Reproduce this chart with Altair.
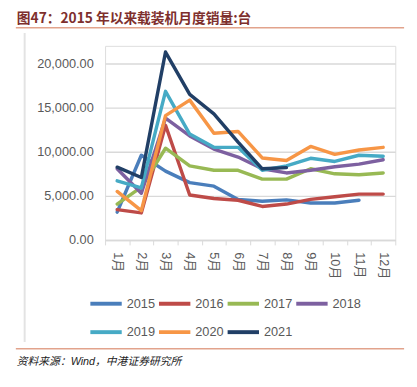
import altair as alt
import pandas as pd

months = ["1月", "2月", "3月", "4月", "5月", "6月", "7月", "8月", "9月", "10月", "11月", "12月"]
years = ["2015", "2016", "2017", "2018", "2019", "2020", "2021"]
colors = ["#4A7EBB", "#BE4B48", "#98B954", "#7D60A0", "#46AAC5", "#F79646", "#213F66"]

s2015 = [3150, 9600, 7800, 6500, 6100, 4600, 4400, 4550, 4200, 4200, 4500, None]
s2016 = [3440, 3070, 13000, 5100, 4700, 4500, 3800, 4070, 4600, 4900, 5200, 5200]
s2017 = [4070, 6000, 10400, 8400, 7900, 7900, 6900, 6900, 8070, 7500, 7400, 7600]
s2018 = [8070, 5300, 13800, 11800, 10300, 9400, 8070, 7600, 7900, 8300, 8600, 9100]
s2019 = [6700, 5900, 16850, 12000, 10500, 10500, 7900, 8400, 9260, 8900, 9600, 9500]
s2020 = [5500, 3330, 14100, 15850, 12100, 12300, 9300, 9000, 10600, 9700, 10200, 10500]
s2021 = [8250, 7080, 21300, 16500, 14300, 11100, 8070, 8200, None, None, None, None]

y_ticks = [0, 5000, 10000, 15000, 20000]
title_text = "图47：2015 年以来载装机月度销量:台"
source_text = "资料来源：Wind，中港证券研究所"

series = [s2015, s2016, s2017, s2018, s2019, s2020, s2021]
rows = []
for yr, vals in zip(years, series):
    for m, v in zip(months, vals):
        if v is not None:
            rows.append({"month": m, "year": yr, "value": v})
df = pd.DataFrame(rows)

FONT = "Liberation Sans, Noto Sans CJK SC"
W, H = 296, 198

lines = alt.Chart(df).mark_line(strokeWidth=3.5, strokeCap="round", strokeJoin="round").encode(
    x=alt.X("month:O", sort=months, title=None, bandPosition=0.5,
            scale=alt.Scale(type="band", domain=months, paddingInner=0, paddingOuter=0),
            axis=alt.Axis(labelAngle=90, labelFontSize=13, labelColor="#595959", labelFont=FONT,
                          tickBand="extent", tickColor="#D9D9D9", tickSize=5, domainColor="#D9D9D9",
                          domainWidth=1.5, labelPadding=7, grid=False)),
    y=alt.Y("value:Q", title=None,
            scale=alt.Scale(domain=[0, 22000], nice=False),
            axis=alt.Axis(values=y_ticks, format=",.2f", labelFontSize=13, labelColor="#595959",
                          labelFont=FONT, domain=False, ticks=False, labelPadding=12,
                          gridColor="#D9D9D9", gridWidth=1.5)),
    color=alt.Color("year:N", sort=years,
                    scale=alt.Scale(domain=years, range=colors),
                    legend=alt.Legend(title=None, orient="none", legendX=-17, legendY=245,
                                      direction="horizontal", columns=4, symbolType="stroke",
                                      symbolSize=1024, symbolStrokeWidth=4, labelFontSize=13,
                                      labelColor="#595959", labelFont=FONT, labelOffset=3,
                                      columnPadding=-4, rowPadding=3)),
    order=alt.Order("year:N"),
)

title = alt.Chart(pd.DataFrame({"t": [title_text]})).mark_text(
    align="left", baseline="alphabetic", fontSize=14, fontWeight="bold", color="#7E2F2D",
    font="Noto Sans CJK SC"
).encode(x=alt.value(-90), y=alt.value(-23), text="t:N")

top_rule = alt.Chart(pd.DataFrame({"a": [0]})).mark_rule(color="#E2A38C", strokeWidth=1.5).encode(
    x=alt.value(-91), x2=alt.value(305), y=alt.value(-18.5))
bottom_rule = alt.Chart(pd.DataFrame({"a": [0]})).mark_rule(color="#E2A38C", strokeWidth=1.5).encode(
    x=alt.value(-91), x2=alt.value(305), y=alt.value(309))
left_rule = alt.Chart(pd.DataFrame({"a": [0]})).mark_rule(color="#E3E3E3", strokeWidth=2).encode(
    x=alt.value(-82), y=alt.value(-13), y2=alt.value(302))

source = alt.Chart(pd.DataFrame({"t": [source_text]})).mark_text(
    align="left", baseline="alphabetic", fontSize=11, fontStyle="italic", color="#222222",
    font=FONT
).encode(x=alt.value(-90), y=alt.value(326), text="t:N")

chart = alt.layer(left_rule, top_rule, bottom_rule, title, source, lines).properties(
    width=W, height=H,
    autosize=alt.AutoSizeParams(type="none"),
    padding={"left": 99, "top": 35, "right": 14, "bottom": 130},
).configure_view(stroke=None).configure(background="white")

chart.save("out.html", embed_options={"renderer": "svg", "actions": False})
